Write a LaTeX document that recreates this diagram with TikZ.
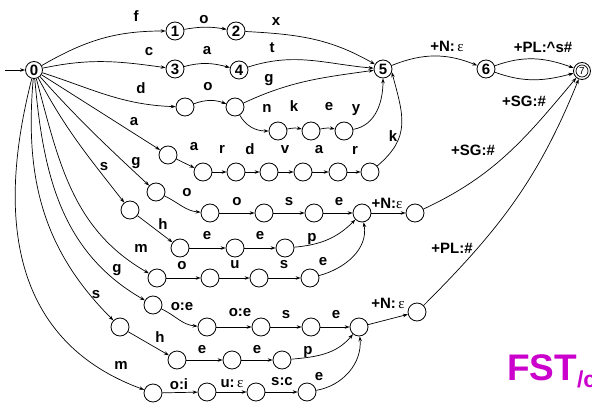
\documentclass[tikz,border=0pt]{standalone}
\usepackage{fontspec}
\setmainfont{Liberation Sans}
\newfontfamily\grk{Liberation Serif}
\usetikzlibrary{arrows.meta}
\definecolor{fstmag}{RGB}{204,0,204}
\newcommand{\eps}{{\mdseries\grk ε}}
\tikzset{
  st/.style={circle, draw, line width=0.8pt, minimum size=18pt, inner sep=0pt,
             font=\bfseries\fontsize{15}{15}\selectfont},
  lab/.style={inner sep=0pt, font=\bfseries\fontsize{15}{15}\selectfont},
  tr/.style={draw, line width=0.7pt, -{Stealth[length=5pt,width=3.5pt]}},
}
\begin{document}
\begin{tikzpicture}[x=1pt,y=1pt]
\useasboundingbox (0,-404) rectangle (592,0);
% numbered states
\node[st, minimum size=17pt] (q0) at (34,-70) {0};
\node[st] (q1) at (175,-31) {1};
\node[st] (q2) at (236,-31) {2};
\node[st] (q3) at (175,-69) {3};
\node[st] (q4) at (239,-70) {4};
\node[st] (q5) at (383,-69) {5};
\node[st] (q6) at (486,-69) {6};
\node[st, minimum size=17pt] (q7) at (582,-71) {};
\node[circle, draw, line width=0.7pt, minimum size=12pt, inner sep=0pt,
      font=\fontsize{10}{10}\selectfont] (q7i) at (q7) {7};
\coordinate (start) at (5,-70);
% donkey
\node[st] (d1) at (185,-107) {};
\node[st] (d2) at (235,-107) {};
\node[st] (d3) at (278,-131) {};
\node[st] (d4) at (311,-131) {};
\node[st] (d5) at (344,-131) {};
% aardvark
\node[st] (a1) at (168,-155) {};
\node[st] (a2) at (203,-172) {};
\node[st] (a3) at (236,-172) {};
\node[st] (a4) at (269,-172) {};
\node[st] (a5) at (303,-172) {};
\node[st] (a6) at (338,-172) {};
\node[st] (a7) at (370,-172) {};
% goose
\node[st] (g1) at (156,-192) {};
\node[st] (g2) at (210,-213) {};
\node[st] (g3) at (264,-213) {};
\node[st] (g4) at (314,-213) {};
\node[st] (n1) at (362,-213) {};
\node[st] (n1b) at (415,-213) {};
% sheep (sg)
\node[st] (s1) at (130,-210) {};
\node[st] (s2) at (180,-248) {};
\node[st] (s3) at (235,-248) {};
\node[st] (s4) at (285,-248) {};
% mouse
\node[st] (m1) at (157,-278) {};
\node[st] (m2) at (210,-278) {};
\node[st] (m3) at (259,-278) {};
\node[st] (m4) at (310,-278) {};
% geese
\node[st] (G1) at (153,-305) {};
\node[st] (G2) at (207,-327) {};
\node[st] (G3) at (261,-327) {};
\node[st] (G4) at (311,-327) {};
\node[st] (n2) at (359,-327) {};
\node[st] (n2b) at (417,-312) {};
% sheep (pl)
\node[st] (S1) at (120,-327) {};
\node[st] (S2) at (177,-360) {};
\node[st] (S3) at (232,-360) {};
\node[st] (S4) at (282,-360) {};
% mice
\node[st] (M1) at (153,-393) {};
\node[st] (M2) at (207,-392) {};
\node[st] (M3) at (256,-392) {};
\node[st] (M4) at (307,-392) {};

% edges
\draw[tr] (start) -- (q0);
\draw[tr] (q0) to[out=30,in=180] (q1);
\draw[tr] (q1) to[out=10,in=170] (q2);
\draw[tr] (q2) to[out=-3,in=150] (q5);
\draw[tr] (q0) to[out=12,in=172] (q3);
\draw[tr] (q3) to[out=15,in=165] (q4);
\draw[tr] (q4) to[out=18,in=175] (q5);
\draw[tr] (q0) to[out=-18,in=178] (d1);
\draw[tr] (d1) to[out=20,in=160] (d2);
\draw[tr] (d2) to[out=25,in=188] (q5);
\draw[tr] (d2) to[out=-60,in=180] (d3);
\draw[tr] (d3) to[out=12,in=168] (d4);
\draw[tr] (d4) to[out=12,in=168] (d5);
\draw[tr] (d5) to[out=10,in=-90] (q5);
\draw[tr] (q0) -- (a1);
\draw[tr] (a1) -- (a2);
\draw[tr] (a2) -- (a3);
\draw[tr] (a3) -- (a4);
\draw[tr] (a4) -- (a5);
\draw[tr] (a5) -- (a6);
\draw[tr] (a6) -- (a7);
\draw[tr] (a7) to[out=40,in=-75,looseness=1.2] (q5.-20);
\draw[tr] (q5) to[out=22,in=158] (q6);
\draw[tr] (q6) to[out=20,in=160] (q7);
\draw[tr] (q6) to[out=-20,in=-165] (q7);
\draw[tr] (q0) to[out=-48,in=137] (g1);
\draw[tr] (g1) to[out=-25,in=175] (g2);
\draw[tr] (g2) -- (g3);
\draw[tr] (g3) -- (g4);
\draw[tr] (g4) -- (n1);
\draw[tr] (n1) -- (n1b);
\draw[tr] (n1b) to[out=25,in=-130] (q7);
\draw[tr] (q0) to[out=-62,in=128] (s1);
\draw[tr] (s1) -- (s2);
\draw[tr] (s2) -- (s3);
\draw[tr] (s3) -- (s4);
\draw[tr] (s4) to[out=5,in=-135] (n1);
\draw[tr] (q0) to[out=-75,in=150] (m1);
\draw[tr] (m1) -- (m2);
\draw[tr] (m2) -- (m3);
\draw[tr] (m3) -- (m4);
\draw[tr] (m4) to[out=15,in=-80] (n1);
\draw[tr] (q0) to[out=-85,in=150] (G1);
\draw[tr] (G1) to[out=-25,in=175] (G2);
\draw[tr] (G2) -- (G3);
\draw[tr] (G3) -- (G4);
\draw[tr] (G4) -- (n2);
\draw[tr] (n2) -- (n2b);
\draw[tr] (n2b) to[out=45,in=-112] (q7);
\draw[tr] (q0) to[out=-95,in=135] (S1);
\draw[tr] (S1) -- (S2);
\draw[tr] (S2) -- (S3);
\draw[tr] (S3) -- (S4);
\draw[tr] (S4) to[out=5,in=-130] (n2);
\draw[tr] (q0) .. controls (-12,-250) and (33,-349) .. (M1);
\draw[tr] (M1) -- (M2);
\draw[tr] (M2) -- (M3);
\draw[tr] (M3) -- (M4);
\draw[tr] (M4) to[out=10,in=-85] (n2);

% labels
\node[lab] (l1) at (136,-16) {f};
\node[lab] (l2) at (204,-20) {o};
\node[lab] (l3) at (276,-22) {x};
\node[lab] (l4) at (149,-52) {c};
\node[lab] (l5) at (207,-51) {a};
\node[lab] (l6) at (272,-48) {t};
\node[lab] (l7) at (141,-88) {d};
\node[lab] (l8) at (208,-87) {o};
\node[lab] (l9) at (269,-80) {g};
\node[lab] (l10) at (267,-108) {n};
\node[lab] (l11) at (294,-106) {k};
\node[lab] (l12) at (329,-107) {e};
\node[lab] (l13) at (356,-110) {y};
\node[lab] (l14) at (134,-122) {a};
\node[lab] (l15) at (194,-147) {a};
\node[lab] (l16) at (222,-149) {r};
\node[lab] (l17) at (250,-149) {d};
\node[lab] (l18) at (285,-150) {v};
\node[lab] (l19) at (319,-150) {a};
\node[lab] (l20) at (355,-150) {r};
\node[lab] (l21) at (393,-136) {k};
\node[lab] (l22) at (447,-46) {+N:\,\eps};
\node[lab] (l23) at (543,-47) {+PL:\textasciicircum s\#};
\node[lab] (l24) at (524,-101) {+SG:\#};
\node[lab] (l25) at (136,-163) {g};
\node[lab] (l26) at (104,-167) {s};
\node[lab] (l27) at (187,-193) {o};
\node[lab] (l28) at (237,-202) {o};
\node[lab] (l29) at (289,-202) {s};
\node[lab] (l30) at (339,-202) {e};
\node[lab] (l31) at (387,-203) {+N:\eps};
\node[lab] (l32) at (473,-150) {+SG:\#};
\node[lab] (l33) at (163,-224) {h};
\node[lab] (l34) at (207,-236) {e};
\node[lab] (l35) at (260,-236) {e};
\node[lab] (l36) at (312,-239) {p};
\node[lab] (l37) at (141,-248) {m};
\node[lab] (l38) at (452,-248) {+PL:\#};
\node[lab] (l39) at (182,-266) {o};
\node[lab] (l40) at (235,-265) {u};
\node[lab] (l41) at (284,-265) {s};
\node[lab] (l42) at (323,-262) {e};
\node[lab] (l43) at (117,-270) {g};
\node[lab] (l44) at (96,-295) {s};
\node[lab] (l45) at (182,-307) {o:e};
\node[lab] (l46) at (240,-313) {o:e};
\node[lab] (l47) at (286,-315) {s};
\node[lab] (l48) at (336,-315) {e};
\node[lab] (l49) at (388,-303) {+N:\,\eps};
\node[lab] (l50) at (160,-337) {h};
\node[lab] (l51) at (202,-350) {e};
\node[lab] (l52) at (257,-350) {e};
\node[lab] (l53) at (308,-352) {p};
\node[lab] (l54) at (121,-365) {m};
\node[lab] (l55) at (179,-384) {o:i};
\node[lab] (l56) at (232,-384) {u:\,\eps};
\node[lab] (l57) at (282,-382) {s:c};
\node[lab] (l58) at (319,-377) {e};
% title (its subscript runs off the right edge, as in the reference)
\node[anchor=base west, inner sep=0pt, text=fstmag,
      font=\bfseries\fontsize{37}{37}\selectfont] (fst) at (507,-380)
      {FST\raisebox{-7pt}{\fontsize{23}{23}\selectfont /c}};
\end{tikzpicture}
\end{document}
